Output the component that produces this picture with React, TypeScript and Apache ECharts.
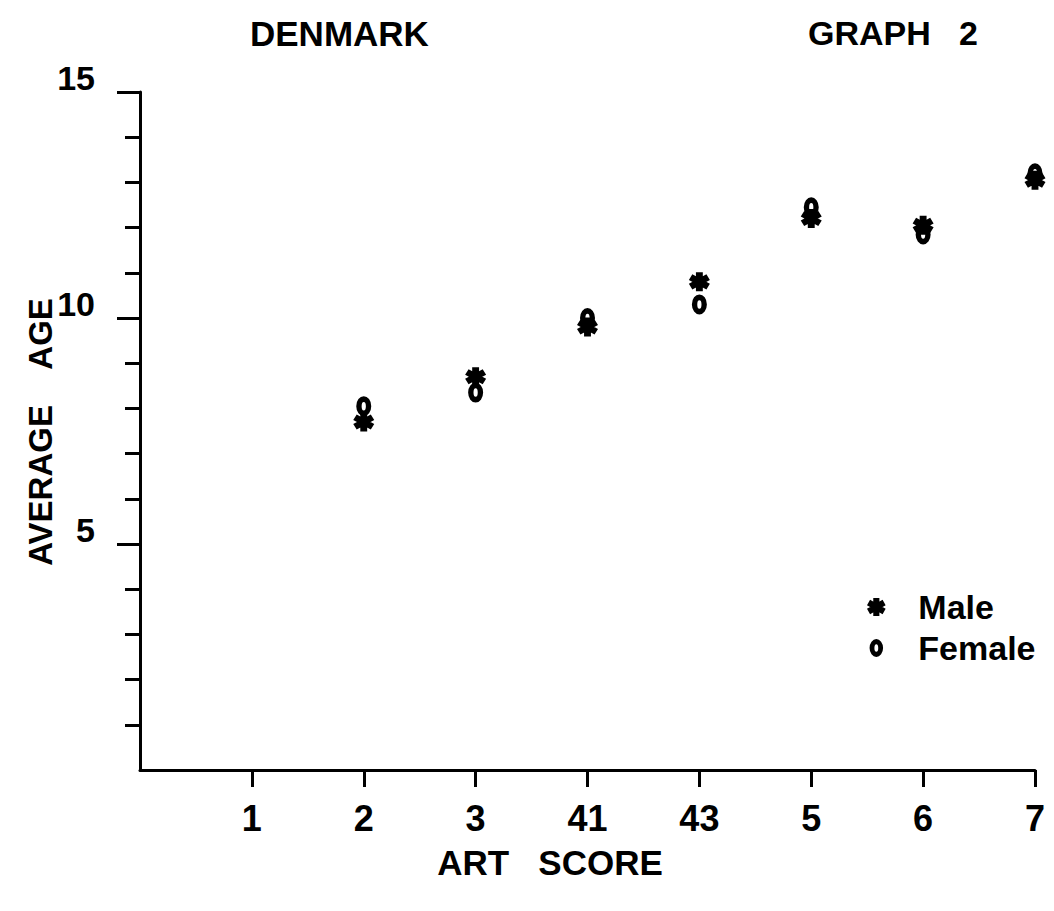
import React, { useEffect, useRef } from "react";
import * as echarts from "echarts";

const categories = ["1", "2", "3", "41", "43", "5", "6", "7"];
const maleAge = [null, 7.7, 8.7, 9.8, 10.8, 12.2, 12.05, 13.05];
const femaleAge = [null, 8.05, 8.35, 10.0, 10.3, 12.45, 11.85, 13.2];
const yMajorTicks = [5, 10, 15];
const yMinorTicks = [1, 2, 3, 4, 6, 7, 8, 9, 11, 12, 13, 14];
const xTicks = [1, 2, 3, 4, 5, 6, 7, 8];

const ASTERISK =
  "path://M-1.7,-5 L1.7,-5 L1.7,5 L-1.7,5 Z " +
  "M3.48,-3.97 L5.18,-1.03 L-3.48,3.97 L-5.18,1.03 Z " +
  "M-5.18,-1.03 L-3.48,-3.97 L5.18,1.03 L3.48,3.97 Z";
const OVAL =
  "path://M0,-8 A6,8 0 1,1 0,8 A6,8 0 1,1 0,-8 Z " +
  "M0,-3.4 A1.7,3.4 0 1,0 0,3.4 A1.7,3.4 0 1,0 0,-3.4 Z";

const FONT = "Liberation Sans";

export default function App() {
  const ref = useRef<HTMLDivElement>(null);
  useEffect(() => {
    if (!ref.current) return;
    const chart = echarts.init(ref.current, undefined, { renderer: "svg" });
    const toPoints = (arr: (number | null)[]) =>
      arr
        .map((v, i) => (v == null ? null : [i + 1, v]))
        .filter((p) => p !== null);
    chart.setOption({
      animation: false,
      backgroundColor: "#fff",
      textStyle: { fontFamily: FONT, color: "#000" },
      grid: { left: 140, right: 19, top: 92, bottom: 141, containLabel: false },
      legend: {
        orient: "vertical",
        left: 862,
        top: 585,
        itemWidth: 30,
        itemHeight: 18,
        itemGap: 7,
        symbolKeepAspect: true,
        data: ["Male", "Female"],
        itemStyle: { opacity: 1 },
        textStyle: {
          fontFamily: FONT,
          fontSize: 34,
          fontWeight: "bold",
          color: "#000",
          padding: [0, 0, 0, 22],
        },
      },
      xAxis: {
        type: "value",
        min: 0,
        max: 8,
        interval: 1,
        splitLine: { show: false },
        axisLine: { show: true, lineStyle: { color: "#000", width: 3 } },
        axisTick: {
          show: true,
          customValues: xTicks,
          length: 17,
          lineStyle: { color: "#000", width: 3 },
        },
        axisLabel: {
          customValues: xTicks,
          margin: 30,
          fontSize: 36,
          fontWeight: "bold",
          color: "#000",
          fontFamily: FONT,
          formatter: (v: number) => categories[Math.round(v) - 1] ?? "",
        },
      },
      yAxis: [
        {
          type: "value",
          min: 0,
          max: 15,
          interval: 5,
          splitLine: { show: false },
          axisLine: { show: true, lineStyle: { color: "#000", width: 3 } },
          axisTick: {
            show: true,
            customValues: yMajorTicks,
            length: 23,
            lineStyle: { color: "#000", width: 3 },
          },
          axisLabel: {
            customValues: yMajorTicks,
            margin: 45,
            fontSize: 34,
            fontWeight: "bold",
            color: "#000",
            fontFamily: FONT,
            verticalAlign: "bottom",
            lineHeight: 28,
          },
        },
        {
          type: "value",
          min: 0,
          max: 15,
          interval: 1,
          position: "left",
          splitLine: { show: false },
          axisLine: { show: false },
          axisTick: {
            show: true,
            customValues: yMinorTicks,
            length: 15,
            lineStyle: { color: "#000", width: 3 },
          },
          axisLabel: { show: false },
        },
      ],
      graphic: [
        {
          type: "text",
          left: 250,
          top: 16,
          style: {
            text: "DENMARK",
            fontSize: 35,
            fontWeight: "bold",
            fontFamily: FONT,
            fill: "#000",
          },
        },
        {
          type: "text",
          left: 808,
          top: 16,
          style: {
            text: "GRAPH   2",
            fontSize: 34,
            fontWeight: "bold",
            fontFamily: FONT,
            fill: "#000",
          },
        },
        {
          type: "text",
          x: 40,
          y: 432,
          rotation: Math.PI / 2,
          style: {
            text: "AVERAGE    AGE",
            fontSize: 33,
            fontWeight: "bold",
            fontFamily: FONT,
            fill: "#000",
            align: "center",
            verticalAlign: "middle",
          },
        },
        {
          type: "text",
          x: 550,
          y: 862,
          style: {
            text: "ART   SCORE",
            fontSize: 35,
            fontWeight: "bold",
            fontFamily: FONT,
            fill: "#000",
            align: "center",
            verticalAlign: "middle",
          },
        },
      ],
      series: [
        {
          name: "Female",
          type: "scatter",
          yAxisIndex: 0,
          symbol: OVAL,
          symbolSize: [15, 20],
          itemStyle: { color: "#000", opacity: 1 },
          data: toPoints(femaleAge),
        },
        {
          name: "Male",
          type: "scatter",
          yAxisIndex: 0,
          symbol: ASTERISK,
          symbolSize: [21, 19],
          itemStyle: { color: "#000", opacity: 1 },
          data: toPoints(maleAge),
        },
      ],
    });
    return () => chart.dispose();
  }, []);
  return (
    <div
      ref={ref}
      style={{ position: "absolute", left: 0, top: 0, width: 1054, height: 911 }}
    />
  );
}
